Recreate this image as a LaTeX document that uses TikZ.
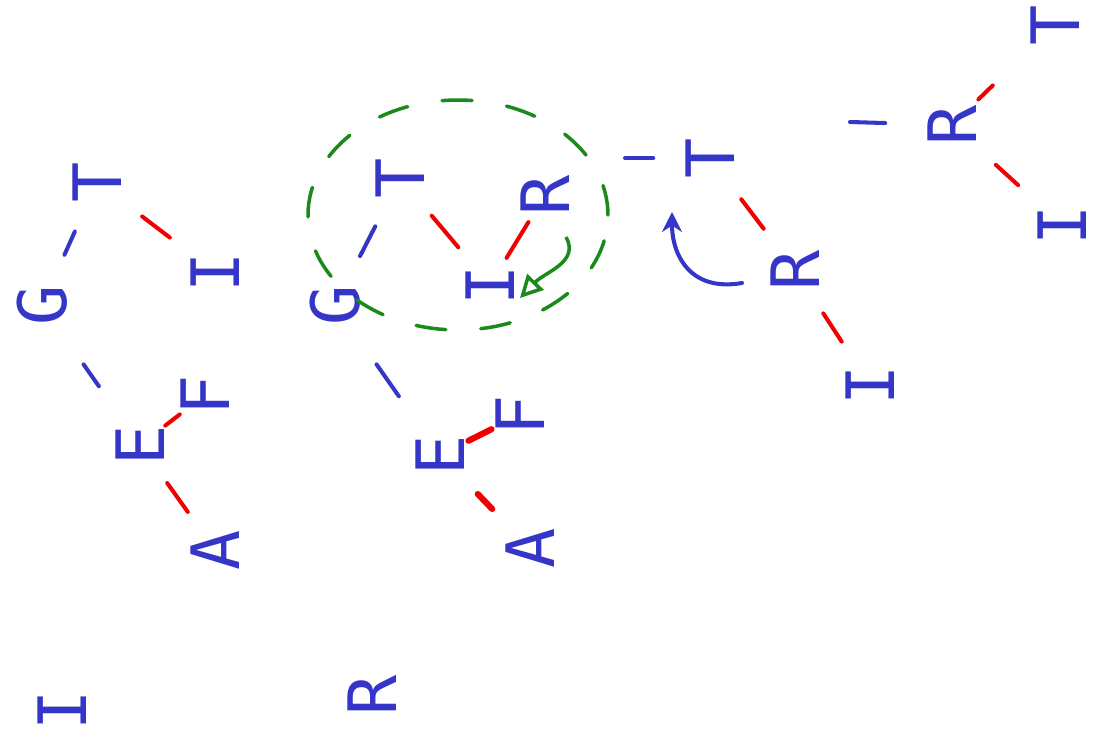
\documentclass[tikz,border=0pt]{standalone}
\usepackage{fontspec}
\usepackage{tikz}
\usetikzlibrary{arrows.meta}
\newfontfamily\handfont{DejaVu Sans Mono}
\definecolor{handblue}{HTML}{3535C8}
\definecolor{handred}{HTML}{F00000}
\definecolor{handgreen}{HTML}{1A8A1A}
\tikzset{
  keynode/.style={circle,inner sep=0pt,minimum size=1cm,rotate=90,text=handblue,
    font=\handfont\fontsize{38}{38}\selectfont},
  blackedge/.style={handblue,line width=2.3pt,line cap=round},
  rededge/.style={handred,line width=2.3pt,line cap=round},
  gap/.style={shorten <=#1,shorten >=#1}
}
\begin{document}
\begin{tikzpicture}[x=0.02cm,y=-0.02cm]
  \useasboundingbox (0,0) rectangle (1102,747);
  % first tree
  \node[keynode] (t1T) at (97,182) {T};
  \node[keynode] (t1G) at (42,305) {G};
  \node[keynode] (t1I) at (215,272) {I};
  \node[keynode] (t1E) at (140,445) {E};
  \node[keynode] (t1F) at (205,395) {F};
  \node[keynode] (t1A) at (215,550) {A};
  \draw[blackedge,gap=0.45cm] (t1T) -- (t1G);
  \draw[rededge,gap=0.5cm] (t1T) -- (t1I);
  \draw[blackedge,gap=0.8cm] (t1G) -- (t1E);
  \draw[rededge] (t1E) -- (t1F);
  \draw[rededge,gap=0.3cm] (t1E) -- (t1A);
  \node[keynode] (newI) at (62,710) {I};
  \node[keynode] (newR) at (372,695) {R};
  % second tree
  \node[keynode] (t2T) at (400,178) {T};
  \node[keynode] (t2G) at (335,305) {G};
  \node[keynode] (t2I) at (490,285) {I};
  \node[keynode] (t2R) at (545,195) {R};
  \node[keynode] (t2E) at (440,455) {E};
  \node[keynode] (t2F) at (520,415) {F};
  \node[keynode] (t2A) at (530,548) {A};
  \draw[blackedge,gap=0.45cm] (t2T) -- (t2G);
  \draw[rededge,gap=0.35cm] (t2T) -- (t2I);
  \draw[rededge] (t2I) -- (t2R);
  \draw[blackedge,gap=0.8cm] (t2G) -- (t2E);
  \draw[rededge,line width=3.5pt] (t2E) -- (t2F);
  \draw[rededge,line width=3.5pt,gap=0.45cm] (t2E) -- (t2A);
  \draw[handgreen,line width=2pt,line cap=round,dash pattern=on 0.6cm off 0.7cm]
    (458,215) ellipse [x radius=3cm,y radius=2.3cm];
  \coordinate (g1) at (566,237); \coordinate (g2) at (520,298);
  \draw[handgreen,line width=2pt,-{Triangle[open,length=0.45cm,width=0.45cm]}]
    (g1) .. controls (580,262) and (545,272) .. (g2);
  % third tree
  \coordinate (p3) at (625,158);
  \node[keynode] (t3T) at (710,158) {T};
  \node[keynode] (t3R) at (795,270) {R};
  \node[keynode] (t3I) at (870,385) {I};
  \draw[blackedge,shorten >=0.5cm] (p3) -- (t3T);
  \draw[rededge,gap=0.4cm] (t3T) -- (t3R);
  \draw[rededge,gap=0.4cm] (t3R) -- (t3I);
  \coordinate (r1) at (742,283); \coordinate (r2) at (672,212);
  \draw[blackedge,-{Stealth[length=0.4cm,width=0.4cm]}]
    (r1) .. controls (690,292) and (672,255) .. (r2);
  % fourth tree
  \coordinate (p4) at (850,122);
  \node[keynode] (t4R) at (952,125) {R};
  \node[keynode] (t4T) at (1055,25) {T};
  \node[keynode] (t4I) at (1062,225) {I};
  \draw[blackedge,shorten >=0.7cm] (p4) -- (t4R);
  \draw[rededge,shorten <=0.1cm,shorten >=1.1cm] (t4R) -- (t4T);
  \draw[rededge,gap=0.55cm] (t4R) -- (t4I);
\end{tikzpicture}
\end{document}
